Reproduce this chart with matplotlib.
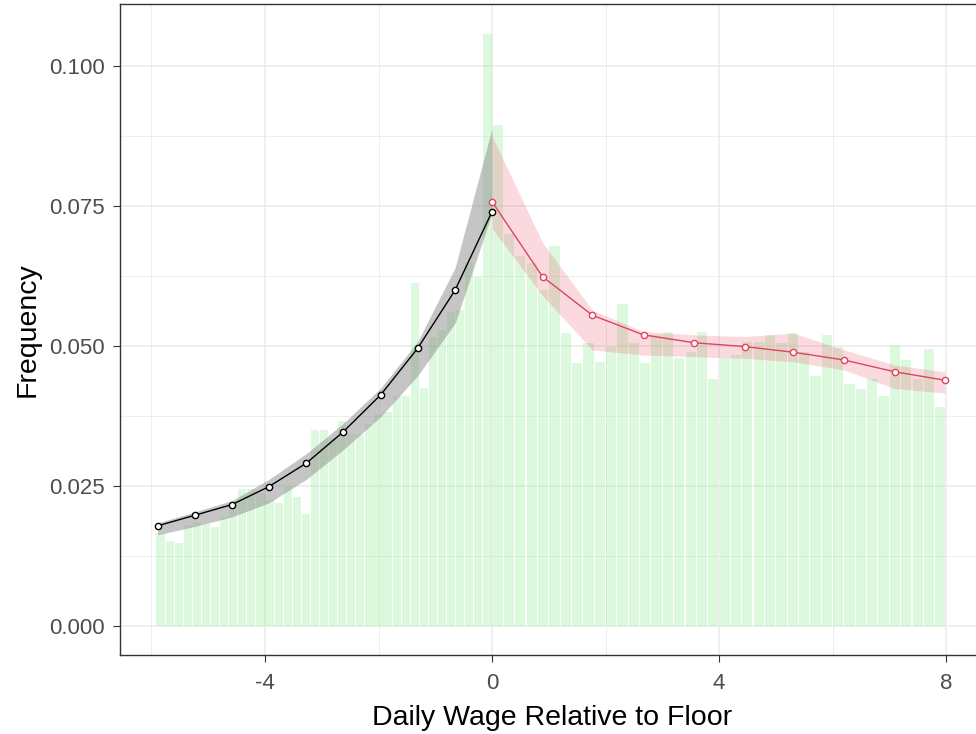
import numpy as np
import matplotlib
matplotlib.use('Agg')
import matplotlib.pyplot as plt
from matplotlib.ticker import MultipleLocator, FormatStrFormatter

plt.rcParams['font.family'] = ['Liberation Sans', 'DejaVu Sans']

# histogram below the floor (narrower bins), left to right, ending at 0
left_bin_width = 0.16
left_heights = [0.0166, 0.0151, 0.0148, 0.0180, 0.0185, 0.0183, 0.0176, 0.0195,
                0.0219, 0.0244, 0.0244, 0.0237, 0.0225, 0.0220, 0.0249, 0.0231,
                0.0200, 0.0350, 0.0350, 0.0335, 0.0367, 0.0343, 0.0343, 0.0360,
                0.0378, 0.0383, 0.0411, 0.0411, 0.0613, 0.0426, 0.0517, 0.0529,
                0.0560, 0.0564, 0.0648, 0.0624, 0.1058]

# histogram above the floor, starting at 0
right_bin_width = 0.2
right_heights = [0.0895, 0.0700, 0.0660, 0.0648, 0.0600, 0.0679, 0.0523, 0.0470,
                 0.0505, 0.0472, 0.0499, 0.0575, 0.0505, 0.0470, 0.0520, 0.0526,
                 0.0478, 0.0490, 0.0526, 0.0442, 0.0478, 0.0484, 0.0508, 0.0508,
                 0.0520, 0.0505, 0.0523, 0.0490, 0.0446, 0.0520, 0.0498, 0.0433,
                 0.0423, 0.0442, 0.0411, 0.0502, 0.0475, 0.0442, 0.0495, 0.0391]

# fitted curve left of floor
left_x = [-5.89, -5.23, -4.58, -3.93, -3.27, -2.62, -1.96, -1.31, -0.65, 0.0]
left_y = [0.0179, 0.0198, 0.0217, 0.0249, 0.0291, 0.0347, 0.0413, 0.0496, 0.0600, 0.0740]
left_lo = [0.0163, 0.0178, 0.0195, 0.0220, 0.0262, 0.0315, 0.0374, 0.0447, 0.0541, 0.0737]
left_hi = [0.0184, 0.0204, 0.0224, 0.0262, 0.0308, 0.0362, 0.0425, 0.0508, 0.0640, 0.0889]

# fitted curve right of floor
right_x = [0.0, 0.89, 1.77, 2.67, 3.56, 4.46, 5.31, 6.21, 7.10, 7.98]
right_y = [0.0758, 0.0624, 0.0555, 0.0520, 0.0506, 0.0499, 0.0489, 0.0475, 0.0454, 0.0439]
right_lo = [0.0710, 0.0590, 0.0493, 0.0484, 0.0481, 0.0478, 0.0472, 0.0457, 0.0424, 0.0416]
right_hi = [0.0875, 0.0685, 0.0564, 0.0526, 0.0520, 0.0517, 0.0523, 0.0493, 0.0466, 0.0454]

fig = plt.figure(figsize=(9.76, 7.34), dpi=100)
ax = fig.add_axes([120 / 976, 1 - 655 / 734, 865 / 976, 651 / 734])

# bars
n_left = len(left_heights)
left_centers = -left_bin_width * (np.arange(n_left)[::-1] + 0.5)
right_centers = right_bin_width * (np.arange(len(right_heights)) + 0.5)
ax.bar(left_centers, left_heights, width=0.9 * left_bin_width,
       color='#90EE90', alpha=0.3, linewidth=0, zorder=2)
ax.bar(right_centers, right_heights, width=0.9 * right_bin_width,
       color='#90EE90', alpha=0.3, linewidth=0, zorder=2)

# ribbons
ax.fill_between(left_x, left_lo, left_hi, color='#808080', alpha=0.45,
                linewidth=0, zorder=3)
ax.fill_between(right_x, right_lo, right_hi, color='#E8435F', alpha=0.2,
                linewidth=0, zorder=3)

# lines with points
ax.plot(left_x, left_y, color='black', linewidth=1.0, marker='o', markersize=4.5,
        markerfacecolor='white', markeredgewidth=1.0, zorder=4)
ax.plot(right_x, right_y, color='#E0435F', linewidth=1.0, marker='o', markersize=4.5,
        markerfacecolor='white', markeredgewidth=1.0, zorder=4)

ax.set_xlim(-6.555, 8.687)
ax.set_ylim(-0.00518, 0.1111)

ax.xaxis.set_major_locator(MultipleLocator(4))
ax.xaxis.set_minor_locator(MultipleLocator(2))
ax.yaxis.set_major_locator(MultipleLocator(0.025))
ax.yaxis.set_minor_locator(MultipleLocator(0.0125))
ax.yaxis.set_major_formatter(FormatStrFormatter('%.3f'))
ax.xaxis.set_major_formatter(FormatStrFormatter('%d'))

ax.set_axisbelow(True)
ax.grid(which='major', color='#EBEBEB', linewidth=1.1)
ax.grid(which='minor', color='#EBEBEB', linewidth=0.6)

for s in ax.spines.values():
    s.set_color('#333333')
    s.set_linewidth(1.0)

ax.tick_params(which='major', length=5, width=0.8, color='#333333',
               labelcolor='#4D4D4D', labelsize=16)
ax.tick_params(axis='y', which='major', pad=6)
ax.tick_params(axis='x', which='major', pad=8)
ax.tick_params(which='minor', length=0)

ax.set_xlabel('Daily Wage Relative to Floor', fontsize=20.5, color='black', labelpad=8)
ax.set_ylabel('Frequency', fontsize=20.5, color='black', labelpad=6)

fig.savefig('out.png', dpi=100)
